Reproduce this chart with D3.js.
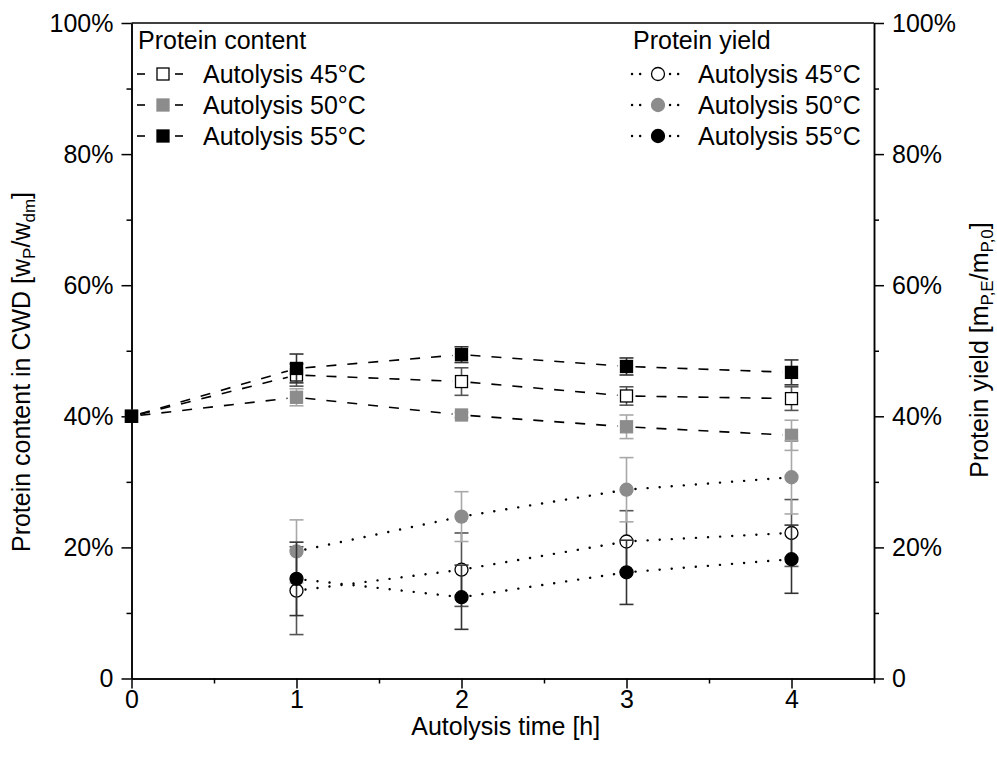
<!DOCTYPE html>
<html>
<head>
<meta charset="utf-8">
<script src="https://cdn.jsdelivr.net/npm/d3@7"></script>
<style>
  body { margin: 0; background: #fff; }
  svg text { font-family: "Liberation Sans", Arial, sans-serif; fill: #000; }
</style>
</head>
<body>
<div class="chart"></div>
<script>
// autolysis time [h]
var times = [0, 1, 2, 3, 4];
var yieldTimes = [1, 2, 3, 4];

// protein content in CWD [%]
var content45 = [40, 46.3, 45.3, 43.1, 42.7];
var content45Err = [0, 1.7, 2.1, 1.4, 1.8];
var content50 = [40, 42.9, 40.2, 38.4, 37.1];
var content50Err = [0, 1.3, 0.4, 1.8, 2.3];
var content55 = [40, 47.3, 49.4, 47.6, 46.7];
var content55Err = [0, 2.2, 1.2, 1.3, 1.9];

// protein yield [%]
var yield45 = [13.4, 16.6, 20.9, 22.2];
var yield45Err = [6.7, 5.6, 4.7, 5.1];
var yield50 = [19.4, 24.7, 28.8, 30.7];
var yield50Err = [4.8, 3.8, 4.9, 5.6];
var yield55 = [15.2, 12.4, 16.2, 18.2];
var yield55Err = [5.6, 4.9, 4.9, 5.2];

var xTicks = [0, 1, 2, 3, 4];
var xMinor = [0.5, 1.5, 2.5, 3.5, 4.5];
var yTicks = [0, 20, 40, 60, 80, 100];
var yMinor = [10, 30, 50, 70, 90];

var legendLabels = ['Autolysis 45°C', 'Autolysis 50°C', 'Autolysis 55°C'];

var cfg = {
    w: 997,
    h: 765,
    left: 131.5,
    right: 874,
    top: 23,
    bottom: 678.5,
    font: 25
};

var contentSeries = [
    { vals: content45, err: content45Err, fill: '#fff', stroke: '#000', errColor: '#555' },
    { vals: content50, err: content50Err, fill: '#8c8c8c', stroke: '#8c8c8c', errColor: '#a8a8a8' },
    { vals: content55, err: content55Err, fill: '#000', stroke: '#000', errColor: '#333' }
];
var yieldSeries = [
    { vals: yield45, err: yield45Err, fill: '#fff', stroke: '#000', errColor: '#555' },
    { vals: yield50, err: yield50Err, fill: '#8c8c8c', stroke: '#8c8c8c', errColor: '#a8a8a8' },
    { vals: yield55, err: yield55Err, fill: '#000', stroke: '#000', errColor: '#333' }
];

var x = d3.scaleLinear().domain([0, 4.5]).range([cfg.left, cfg.right]);
var y = d3.scaleLinear().domain([0, 100]).range([cfg.bottom, cfg.top]);

var svg = d3.select('.chart').append('svg')
    .attr('width', cfg.w)
    .attr('height', cfg.h);

var fmt = function (d) { return d === 0 ? '0' : d + '%'; };

// axes
var styleAxis = function (g) {
    g.select('.domain').attr('stroke', '#000').attr('stroke-width', 1.5);
    g.selectAll('.tick line').attr('stroke', '#000').attr('stroke-width', 1.5);
    g.selectAll('.tick text').attr('font-size', cfg.font).attr('font-family', '"Liberation Sans", Arial, sans-serif');
};

svg.append('g')
    .attr('transform', 'translate(0,' + cfg.bottom + ')')
    .call(d3.axisBottom(x).tickValues(xTicks).tickSize(10).tickPadding(2).tickSizeOuter(0).tickFormat(d3.format('d')))
    .call(styleAxis);
svg.append('g')
    .attr('transform', 'translate(0,' + cfg.bottom + ')')
    .call(d3.axisBottom(x).tickValues(xMinor).tickSize(5).tickSizeOuter(0).tickFormat(''))
    .call(styleAxis);

svg.append('g')
    .attr('transform', 'translate(' + cfg.left + ',0)')
    .call(d3.axisLeft(y).tickValues(yTicks).tickSize(10).tickPadding(8).tickSizeOuter(0).tickFormat(fmt))
    .call(styleAxis);
svg.append('g')
    .attr('transform', 'translate(' + cfg.left + ',0)')
    .call(d3.axisLeft(y).tickValues(yMinor).tickSize(5).tickSizeOuter(0).tickFormat(''))
    .call(styleAxis);

svg.append('g')
    .attr('transform', 'translate(' + cfg.right + ',0)')
    .call(d3.axisRight(y).tickValues(yTicks).tickSize(10).tickPadding(8).tickSizeOuter(0).tickFormat(fmt))
    .call(styleAxis);
svg.append('g')
    .attr('transform', 'translate(' + cfg.right + ',0)')
    .call(d3.axisRight(y).tickValues(yMinor).tickSize(5).tickSizeOuter(0).tickFormat(''))
    .call(styleAxis);

svg.append('line')
    .attr('x1', cfg.left).attr('x2', cfg.right)
    .attr('y1', cfg.top).attr('y2', cfg.top)
    .attr('stroke', '#000').attr('stroke-width', 1.5);

// axis titles
svg.append('text')
    .attr('x', (cfg.left + cfg.right) / 2 + 3)
    .attr('y', 735)
    .attr('text-anchor', 'middle')
    .attr('font-size', cfg.font)
    .text('Autolysis time [h]');

var leftTitle = svg.append('text')
    .attr('transform', 'translate(30,' + 372 + ') rotate(-90)')
    .attr('text-anchor', 'middle')
    .attr('font-size', cfg.font);
leftTitle.append('tspan').text('Protein content in CWD [w');
leftTitle.append('tspan').attr('font-size', 17).attr('dy', 5).text('P');
leftTitle.append('tspan').attr('dy', -5).text('/w');
leftTitle.append('tspan').attr('font-size', 17).attr('dy', 5).text('dm');
leftTitle.append('tspan').attr('dy', -5).text(']');

var rightTitle = svg.append('text')
    .attr('transform', 'translate(988,' + 350 + ') rotate(-90)')
    .attr('text-anchor', 'middle')
    .attr('font-size', cfg.font);
rightTitle.append('tspan').text('Protein yield [m');
rightTitle.append('tspan').attr('font-size', 17).attr('dy', 5).text('P,E');
rightTitle.append('tspan').attr('dy', -5).text('/m');
rightTitle.append('tspan').attr('font-size', 17).attr('dy', 5).text('P,0');
rightTitle.append('tspan').attr('dy', -5).text(']');

// lines with a small gap around each symbol
var gap = 9;
var drawGappedLine = function (pts, dash, width, round) {
    for (var i = 0; i < pts.length - 1; i++) {
        var a = pts[i], b = pts[i + 1];
        var dx = b[0] - a[0], dy = b[1] - a[1];
        var len = Math.sqrt(dx * dx + dy * dy);
        var ux = dx / len, uy = dy / len;
        svg.append('line')
            .attr('x1', a[0] + ux * gap).attr('y1', a[1] + uy * gap)
            .attr('x2', b[0] - ux * gap).attr('y2', b[1] - uy * gap)
            .attr('stroke', '#000')
            .attr('stroke-width', width)
            .attr('stroke-dasharray', dash)
            .attr('stroke-linecap', round ? 'round' : 'butt');
    }
};

contentSeries.forEach(function (s) {
    drawGappedLine(times.map(function (t, i) { return [x(t), y(s.vals[i])]; }), '10,11', 1.6, false);
});
yieldSeries.forEach(function (s) {
    drawGappedLine(yieldTimes.map(function (t, i) { return [x(t), y(s.vals[i])]; }), '0.1,12', 2.4, true);
});

var capW = 7;
var drawErrors = function (xs, s) {
    var g = svg.append('g');
    xs.forEach(function (t, i) {
        if (!s.err[i]) return;
        var cx = x(t), y0 = y(s.vals[i] - s.err[i]), y1 = y(s.vals[i] + s.err[i]);
        g.append('line').attr('x1', cx).attr('x2', cx).attr('y1', y0).attr('y2', y1)
            .attr('stroke', s.errColor).attr('stroke-width', 1.6);
        [y0, y1].forEach(function (yy) {
            g.append('line').attr('x1', cx - capW).attr('x2', cx + capW).attr('y1', yy).attr('y2', yy)
                .attr('stroke', s.errColor).attr('stroke-width', 1.6);
        });
    });
};

var sq = 12;
var drawSquare = function (g, cx, cy, s) {
    g.append('rect')
        .attr('x', cx - sq / 2).attr('y', cy - sq / 2)
        .attr('width', sq).attr('height', sq)
        .attr('fill', s.fill).attr('stroke', s.stroke).attr('stroke-width', 1.3);
};
var drawCircle = function (g, cx, cy, s) {
    g.append('circle')
        .attr('cx', cx).attr('cy', cy).attr('r', 6.5)
        .attr('fill', s.fill).attr('stroke', s.stroke).attr('stroke-width', 1.3);
};

contentSeries.forEach(function (s) {
    drawErrors(times, s);
    var g = svg.append('g');
    times.forEach(function (t, i) { drawSquare(g, x(t), y(s.vals[i]), s); });
});
yieldSeries.forEach(function (s) {
    drawErrors(yieldTimes, s);
    var g = svg.append('g');
    yieldTimes.forEach(function (t, i) { drawCircle(g, x(t), y(s.vals[i]), s); });
});

// legends
var drawLegend = function (lx, title, series, dash, symbol, round) {
    var g = svg.append('g');
    g.append('text').attr('x', lx + 1).attr('y', 49).attr('font-size', cfg.font).text(title);
    series.forEach(function (s, i) {
        var ly = 74 + i * 31;
        var mx = lx + 26;
        [[lx, mx - 10], [mx + 12, mx + 27]].forEach(function (seg) {
            g.append('line')
                .attr('x1', seg[0]).attr('x2', seg[1]).attr('y1', ly).attr('y2', ly)
                .attr('stroke', '#000').attr('stroke-width', round ? 2.4 : 1.6)
                .attr('stroke-dasharray', dash)
                .attr('stroke-linecap', round ? 'round' : 'butt');
        });
        symbol(g, mx, ly, s);
        g.append('text').attr('x', lx + 66).attr('y', ly + 9).attr('font-size', cfg.font).text(legendLabels[i]);
    });
};
drawLegend(137, 'Protein content', contentSeries, '8,9', drawSquare, false);
drawLegend(632, 'Protein yield', yieldSeries, '0.1,8', drawCircle, true);
</script>
</body>
</html>
